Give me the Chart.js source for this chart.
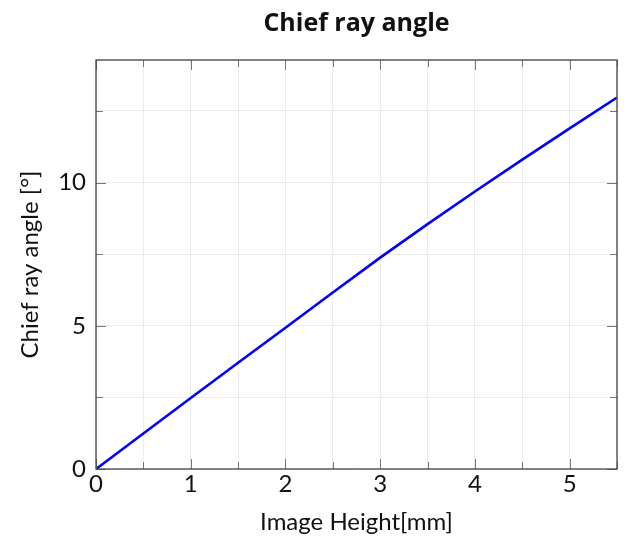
<!DOCTYPE html>
<html>
<head>
<meta charset="utf-8">
<script src="https://cdn.jsdelivr.net/npm/chart.js@4/dist/chart.umd.min.js"></script>
<style>
  html, body { margin: 0; padding: 0; background: #fff; }
  #wrap { width: 627px; height: 545px; }
</style>
</head>
<body>
<div id="wrap"><canvas id="craChart" width="627" height="545"></canvas></div>
<script>
// values
const imageHeight = [0, 0.5, 1, 1.5, 2, 2.5, 3, 3.5, 4, 4.5, 5, 5.5];
const rayAngle = [0, 1.24, 2.48, 3.71, 4.93, 6.16, 7.38, 8.55, 9.69, 10.80, 11.89, 12.97];
const xTickLabels = [0, 1, 2, 3, 4, 5];
const yTickLabels = [0, 5, 10];
const chartTitle = "Chief ray angle";

const tickFont = { family: "Lato, 'Open Sans', sans-serif", size: 24 };

// frame + inward ticks on all four sides, title centred over the plot area
const frameTicks = {
  id: "frameTicks",
  afterDatasetsDraw(chart) {
    const { ctx, chartArea: a, scales } = chart;
    ctx.save();
    ctx.strokeStyle = "#777";
    ctx.lineWidth = 1;
    scales.x.ticks.forEach(t => {
      const px = Math.round(scales.x.getPixelForValue(t.value)) + 0.5;
      const len = xTickLabels.includes(t.value) ? 10 : 7;
      ctx.beginPath();
      ctx.moveTo(px, a.bottom); ctx.lineTo(px, a.bottom - len);
      ctx.moveTo(px, a.top); ctx.lineTo(px, a.top + len);
      ctx.stroke();
    });
    scales.y.ticks.forEach(t => {
      if (t.value > 12.5) return;
      const py = Math.round(scales.y.getPixelForValue(t.value)) + 0.5;
      const len = yTickLabels.includes(t.value) ? 10 : 7;
      ctx.beginPath();
      ctx.moveTo(a.left, py); ctx.lineTo(a.left + len, py);
      ctx.moveTo(a.right, py); ctx.lineTo(a.right - len, py);
      ctx.stroke();
    });
    ctx.strokeStyle = "#444";
    ctx.lineWidth = 1.3;
    ctx.strokeRect(a.left, a.top, a.right - a.left, a.bottom - a.top);

    ctx.fillStyle = "#111";
    ctx.font = "bold 25px 'Open Sans', 'Noto Sans', sans-serif";
    ctx.textAlign = "center";
    ctx.textBaseline = "middle";
    ctx.fillText(chartTitle, (a.left + a.right) / 2, 24);
    ctx.restore();
  }
};

new Chart(document.getElementById("craChart"), {
  type: "line",
  data: {
    datasets: [{
      label: chartTitle,
      data: imageHeight.map((h, i) => ({ x: h, y: rayAngle[i] })),
      borderColor: "#0000ff",
      borderWidth: 2.6,
      pointRadius: 0,
      tension: 0,
      fill: false
    }]
  },
  options: {
    responsive: false,
    animation: false,
    layout: { padding: { left: 0, right: 10, top: 60, bottom: 0 } },
    plugins: {
      legend: { display: false },
      tooltip: { enabled: false }
    },
    scales: {
      x: {
        type: "linear",
        min: 0,
        max: 5.5,
        ticks: {
          stepSize: 0.5,
          autoSkip: false,
          maxRotation: 0,
          padding: 1,
          color: "#111",
          font: tickFont,
          callback: v => xTickLabels.includes(v) ? v : ""
        },
        grid: { color: "#ececec", lineWidth: 1, drawTicks: false },
        border: { display: false },
        title: {
          display: true,
          text: "Image Height[mm]",
          color: "#111",
          font: tickFont,
          padding: { top: 0, bottom: 8 }
        },
        afterFit(scale) { scale.height = 76; }
      },
      y: {
        min: 0,
        max: 14.28,
        ticks: {
          stepSize: 2.5,
          autoSkip: false,
          padding: 10,
          color: "#111",
          font: tickFont,
          callback: v => yTickLabels.includes(v) ? v : ""
        },
        grid: { color: "#ececec", lineWidth: 1, drawTicks: false },
        border: { display: false },
        title: {
          display: true,
          text: "Chief ray angle [°]",
          color: "#111",
          font: tickFont,
          padding: { top: 16, bottom: 0 }
        },
        afterFit(scale) { scale.width = 96; }
      }
    }
  },
  plugins: [frameTicks]
});
</script>
</body>
</html>
